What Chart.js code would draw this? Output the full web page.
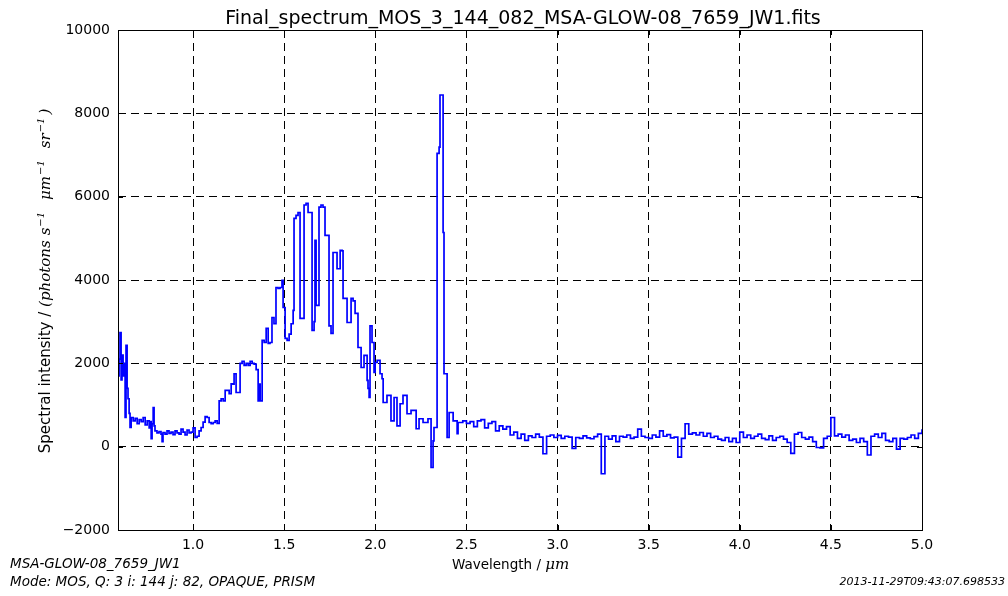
<!DOCTYPE html>
<html>
<head>
<meta charset="utf-8">
<script src="https://cdn.jsdelivr.net/npm/chart.js@4.4.1/dist/chart.umd.min.js"></script>
<style>
  body { margin: 0; background: #fff; }
  #wrap { width: 1008px; height: 596px; }
</style>
</head>
<body>
<div id="wrap"><canvas id="specChart" width="1008" height="596"></canvas></div>
<script>
const TITLE = 'Final_spectrum_MOS_3_144_082_MSA-GLOW-08_7659_JW1.fits';
const FOOT_NAME = 'MSA-GLOW-08_7659_JW1';
const FOOT_MODE = 'Mode: MOS, Q: 3 i: 144 j: 82, OPAQUE, PRISM';
const FOOT_DATE = '2013-11-29T09:43:07.698533';

const xTicks = [1.0, 1.5, 2.0, 2.5, 3.0, 3.5, 4.0, 4.5, 5.0];
const yTicks = [-2000, 0, 2000, 4000, 6000, 8000, 10000];

// wavelength in micron
const wavelength = [
  0.588, 0.594, 0.599, 0.605, 0.610, 0.616, 0.621, 0.627, 0.632, 0.638,
  0.643, 0.649, 0.654, 0.660, 0.671, 0.682, 0.693, 0.704, 0.715, 0.726,
  0.737, 0.748, 0.759, 0.764, 0.770, 0.775, 0.781, 0.786, 0.791, 0.802,
  0.813, 0.824, 0.830, 0.835, 0.846, 0.857, 0.868, 0.879, 0.890, 0.901,
  0.912, 0.923, 0.934, 0.945, 0.956, 0.967, 0.978, 0.989, 1.000, 1.011,
  1.022, 1.033, 1.044, 1.055, 1.066, 1.077, 1.088, 1.099, 1.110, 1.121,
  1.132, 1.143, 1.154, 1.165, 1.176, 1.187, 1.198, 1.209, 1.219, 1.225,
  1.236, 1.247, 1.258, 1.269, 1.280, 1.291, 1.302, 1.313, 1.324, 1.335,
  1.346, 1.357, 1.362, 1.368, 1.379, 1.390, 1.401, 1.412, 1.422, 1.433,
  1.444, 1.455, 1.466, 1.477, 1.488, 1.494, 1.505, 1.516, 1.527, 1.538,
  1.549, 1.554, 1.565, 1.576, 1.587, 1.598, 1.609, 1.620, 1.631, 1.642,
  1.653, 1.664, 1.669, 1.675, 1.686, 1.691, 1.702, 1.713, 1.724, 1.735,
  1.746, 1.757, 1.768, 1.779, 1.790, 1.801, 1.807, 1.818, 1.823, 1.834,
  1.845, 1.856, 1.867, 1.878, 1.889, 1.900, 1.905, 1.916, 1.922, 1.933,
  1.938, 1.949, 1.955, 1.960, 1.966, 1.971, 1.982, 1.993, 1.999, 2.010,
  2.026, 2.037, 2.043, 2.059, 2.064, 2.081, 2.086, 2.097, 2.103, 2.114,
  2.119, 2.130, 2.136, 2.152, 2.169, 2.174, 2.191, 2.196, 2.218, 2.224,
  2.235, 2.240, 2.257, 2.262, 2.284, 2.289, 2.300, 2.306, 2.311, 2.317,
  2.322, 2.333, 2.339, 2.350, 2.355, 2.372, 2.377, 2.388, 2.394, 2.405,
  2.421, 2.427, 2.438, 2.449, 2.454,
  2.46, 2.48, 2.50, 2.52, 2.54, 2.56, 2.58, 2.60, 2.62, 2.64,
  2.66, 2.68, 2.70, 2.72, 2.74, 2.76, 2.78, 2.80, 2.82, 2.84,
  2.86, 2.88, 2.90, 2.92, 2.94, 2.96, 2.98, 3.00, 3.02, 3.04,
  3.06, 3.08, 3.10, 3.12, 3.14, 3.16, 3.18, 3.20, 3.22, 3.24,
  3.26, 3.28, 3.30, 3.32, 3.34, 3.36, 3.38, 3.40, 3.42, 3.44,
  3.46, 3.48, 3.50, 3.52, 3.54, 3.56, 3.58, 3.60, 3.62, 3.64,
  3.66, 3.68, 3.70, 3.72, 3.74, 3.76, 3.78, 3.80, 3.82, 3.84,
  3.86, 3.88, 3.90, 3.92, 3.94, 3.96, 3.98, 4.00, 4.02, 4.04,
  4.06, 4.08, 4.10, 4.12, 4.14, 4.16, 4.18, 4.20, 4.22, 4.24,
  4.26, 4.28, 4.30, 4.32, 4.34, 4.36, 4.38, 4.40, 4.42, 4.44,
  4.46, 4.48, 4.50, 4.52, 4.54, 4.56, 4.58, 4.60, 4.62, 4.64,
  4.66, 4.68, 4.70, 4.72, 4.74, 4.76, 4.78, 4.80, 4.82, 4.84,
  4.86, 4.88, 4.90, 4.92, 4.94, 4.96, 4.98, 5.00
];

// spectral intensity, photons s-1 um-1 sr-1
const flux = [
  1700, 2100, 2740, 1600, 2200, 1700, 2000, 700, 2430, 1400,
  1150, 800, 460, 700, 620, 680, 550, 650, 600, 700,
  520, 620, 450, 600, 190, 550, 940, 500, 380, 330,
  360, 300, 120, 340, 300, 380, 320, 350, 290, 380,
  330, 300, 420, 350, 280, 400, 330, 350, 450, 220,
  250, 380, 460, 590, 720, 700, 580, 550, 580, 620,
  560, 1100, 1150, 1100, 1350, 1350, 1270, 1510, 1500, 1750,
  1300, 1300, 2000, 2050, 1950, 2000, 1950, 2050, 2000, 1980,
  1850, 1100, 1500, 1100, 2550, 2500, 2840, 2480, 2500, 3100,
  2950, 3820, 3800, 3820, 3990, 3340, 2600, 2550, 2700, 2950,
  3270, 5480, 5550, 5620, 3080, 3080, 5800, 5840, 5620, 5620,
  2790, 3000, 4950, 3390, 3390, 5750, 5800, 5750, 5070, 5070,
  2900, 2720, 4660, 4660, 4270, 4270, 4710, 4700, 3560, 3560,
  2980, 2980, 3560, 3500, 3200, 3200, 2380, 2380, 1900, 1900,
  2190, 2190, 1590, 1400, 1180, 2900, 2500, 1780, 2020, 2070,
  1750, 1630, 1060, 1060, 1230, 1230, 620, 620, 1180, 1180,
  500, 500, 1030, 1230, 1230, 790, 790, 870, 870, 430,
  430, 670, 670, 580, 580, 670, 670, -500, -500, 140,
  460, 460, 7040, 7190, 8440, 5140, 1750, 1750, 220, 820,
  820, 620, 620, 310, 580,
  580, 620, 560, 600, 480, 620, 650, 450, 560, 600,
  380, 500, 420, 480, 280, 350, 200, 300, 150, 260,
  220, 300, 230, -170, 250, 280, 220, 270, 200, 250,
  230, -40, 220, 200, 260, 210, 190, 240, 300, -650,
  250, 180, 260, 120, 250, 230, 280, 200, 230, 420,
  250, 220, 200, 280, 230, 380, 250, 290, 210, 230,
  -250, 200, 550, 300, 330, 280, 340, 250, 320, 220,
  250, 180, 150, 220, 120, 200, 100, 350, 220, 280,
  200, 250, 300, 200, 170, 260, 150, 220, 250, 180,
  100, -160, 300, 340, 220, 180, 230, 120, -20, -30,
  200, 250, 700, 260, 300, 230, 280, 150, 180, 100,
  200, 120, -200, 250, 300, 220, 320, 150, 120, 200,
  -60, 200, 180, 220, 280, 200, 320, 420
];

const FONT = 'DejaVu Sans';
const MINUS = '\u2212';

function fmtY(v) {
  return v < 0 ? MINUS + Math.abs(v) : String(v);
}

// draw a run of text pieces (text, font, raise) one after another
function drawRun(ctx, pieces, x0, y0) {
  let x = x0;
  pieces.forEach(p => {
    ctx.font = p.font;
    ctx.fillText(p.text, x, y0 - (p.raise || 0));
    x += ctx.measureText(p.text).width + (p.gap || 0);
  });
  return x - x0;
}

function runWidth(ctx, pieces) {
  let w = 0;
  pieces.forEach(p => {
    ctx.font = p.font;
    w += ctx.measureText(p.text).width + (p.gap || 0);
  });
  return w;
}

const decorPlugin = {
  id: 'decor',
  afterDraw(chart) {
    const ctx = chart.ctx;
    const a = chart.chartArea;
    const xs = chart.scales.x, ys = chart.scales.y;
    ctx.save();

    // frame
    ctx.strokeStyle = '#000';
    ctx.lineWidth = 1;
    ctx.setLineDash([]);
    ctx.strokeRect(Math.round(a.left) + 0.5, Math.round(a.top) + 0.5,
      Math.round(a.right - a.left), Math.round(a.bottom - a.top));

    // inward tick marks on all four sides
    ctx.beginPath();
    xTicks.forEach(v => {
      const px = Math.round(xs.getPixelForValue(v)) + 0.5;
      ctx.moveTo(px, a.bottom); ctx.lineTo(px, a.bottom - 5);
      ctx.moveTo(px, a.top); ctx.lineTo(px, a.top + 5);
    });
    yTicks.forEach(v => {
      const py = Math.round(ys.getPixelForValue(v)) + 0.5;
      ctx.moveTo(a.left, py); ctx.lineTo(a.left + 5, py);
      ctx.moveTo(a.right, py); ctx.lineTo(a.right - 5, py);
    });
    ctx.stroke();

    ctx.fillStyle = '#000';
    ctx.textBaseline = 'alphabetic';

    // title
    ctx.font = '19px "' + FONT + '"';
    ctx.textAlign = 'center';
    ctx.fillText(TITLE, 523, 24);

    // x axis label
    ctx.textAlign = 'left';
    drawRun(ctx, [
      { text: 'Wavelength / ', font: '13.5px "' + FONT + '"' },
      { text: '\u03bcm', font: 'italic 15px "DejaVu Serif"' }
    ], 452, 569);

    // y axis label, rotated
    const sup = 'italic 10px "DejaVu Serif"';
    const mth = 'italic 15px "DejaVu Serif"';
    const yPieces = [
      { text: 'Spectral intensity / ', font: '15px "' + FONT + '"' },
      { text: '(photons', font: mth, gap: 5 },
      { text: 's', font: mth, gap: 1 },
      { text: MINUS + '1', font: sup, raise: 6, gap: 12 },
      { text: '\u03bcm', font: mth, gap: 1 },
      { text: MINUS + '1', font: sup, raise: 6, gap: 12 },
      { text: 'sr', font: mth, gap: 1 },
      { text: MINUS + '1', font: sup, raise: 6, gap: 3 },
      { text: ')', font: mth }
    ];
    ctx.save();
    ctx.translate(50, 281);
    ctx.rotate(-Math.PI / 2);
    const w = runWidth(ctx, yPieces);
    drawRun(ctx, yPieces, -w / 2, 0);
    ctx.restore();

    // footer notes
    ctx.font = 'italic 13.5px "' + FONT + '"';
    ctx.textAlign = 'left';
    ctx.fillText(FOOT_NAME, 10, 568);
    ctx.fillText(FOOT_MODE, 10, 586);
    ctx.font = 'italic 11px "' + FONT + '"';
    ctx.textAlign = 'right';
    ctx.fillText(FOOT_DATE, 1005, 585);

    ctx.restore();
  }
};

const points = wavelength.map((w, i) => ({ x: w, y: flux[i] }));

new Chart(document.getElementById('specChart').getContext('2d'), {
  type: 'line',
  data: {
    datasets: [{
      data: points,
      borderColor: '#0000ff',
      borderWidth: 1.7,
      pointRadius: 0,
      stepped: true,
      fill: false
    }]
  },
  options: {
    responsive: false,
    animation: false,
    layout: { padding: { top: 30, right: 86, left: 0, bottom: 0 } },
    plugins: {
      legend: { display: false },
      tooltip: { enabled: false },
      title: { display: false }
    },
    scales: {
      x: {
        type: 'linear',
        min: 0.588,
        max: 5.0,
        afterBuildTicks: s => { s.ticks = xTicks.map(v => ({ value: v })); },
        afterFit: s => { s.height = 66; },
        ticks: {
          callback: v => Number(v).toFixed(1),
          font: { family: FONT, size: 14 },
          color: '#000',
          padding: 7,
          maxRotation: 0,
          autoSkip: false
        },
        grid: { color: '#000', lineWidth: 1, drawTicks: false },
        border: { display: false, dash: [8, 5] }
      },
      y: {
        min: -2000,
        max: 10000,
        afterBuildTicks: s => { s.ticks = yTicks.map(v => ({ value: v })); },
        afterFit: s => { s.width = 118; },
        ticks: {
          callback: v => fmtY(v),
          font: { family: FONT, size: 14 },
          color: '#000',
          padding: 8,
          autoSkip: false
        },
        grid: { color: '#000', lineWidth: 1, drawTicks: false },
        border: { display: false, dash: [8, 5] }
      }
    }
  },
  plugins: [decorPlugin]
});
</script>
</body>
</html>
